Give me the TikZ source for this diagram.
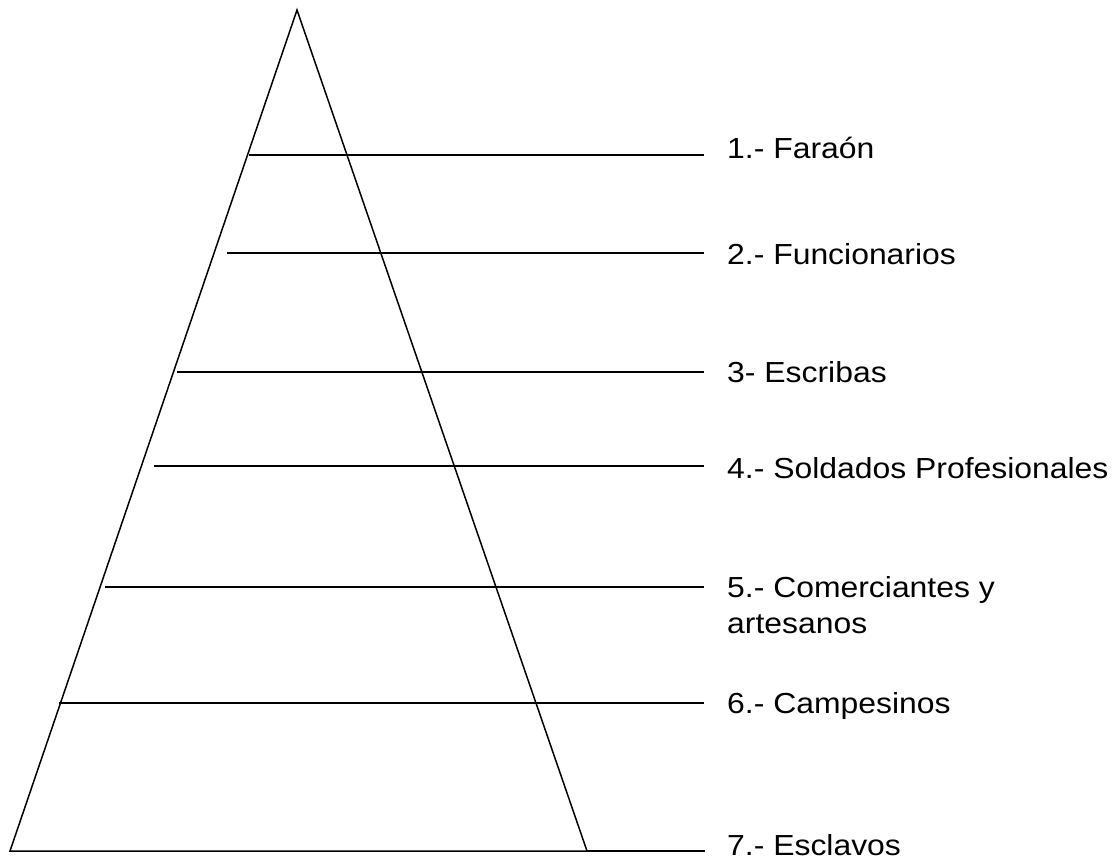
\documentclass[tikz,border=0pt]{standalone}
\usepackage{fontspec}
\setmainfont[FakeStretch=1.1]{Liberation Sans}
\begin{document}
\begin{tikzpicture}[x=1pt,y=-1pt,
  tri/.style={line width=1.5pt,line join=miter},
  level/.style={line width=1.3pt},
  lab/.style={anchor=base west,inner sep=0pt,font=\fontsize{29}{35}\selectfont,align=left}]
\useasboundingbox (0,0) rectangle (1118,857);
\coordinate (apex) at (297,10);
\coordinate (bl) at (10,851);
\coordinate (br) at (587,851);
\draw[tri] (apex) -- (bl) -- (br) -- cycle;
% level lines
\coordinate (a1) at (249,155); \coordinate (b1) at (704,155);
\coordinate (a2) at (227,253); \coordinate (b2) at (704,253);
\coordinate (a3) at (177,372); \coordinate (b3) at (704,372);
\coordinate (a4) at (154,466); \coordinate (b4) at (704,466);
\coordinate (a5) at (105,587); \coordinate (b5) at (704,587);
\coordinate (a6) at (59,703);  \coordinate (b6) at (704,703);
\coordinate (b7) at (705,851);
\draw[level] (a1) -- (b1);
\draw[level] (a2) -- (b2);
\draw[level] (a3) -- (b3);
\draw[level] (a4) -- (b4);
\draw[level] (a5) -- (b5);
\draw[level] (a6) -- (b6);
\draw[level] (br) -- (b7);
% labels
\node[lab] (n1) at (727,158) {1.- Faraón};
\node[lab] (n2) at (727,264) {2.- Funcionarios};
\node[lab] (n3) at (727,382) {3- Escribas};
\node[lab] (n4) at (727,478) {4.- Soldados Profesionales};
\node[lab] (n5) at (727,597) {5.- Comerciantes y};
\node[lab] (n5b) at (727,633) {artesanos};
\node[lab] (n6) at (727,713) {6.- Campesinos};
\node[lab] (n7) at (727,855) {7.- Esclavos};
\end{tikzpicture}
\end{document}
